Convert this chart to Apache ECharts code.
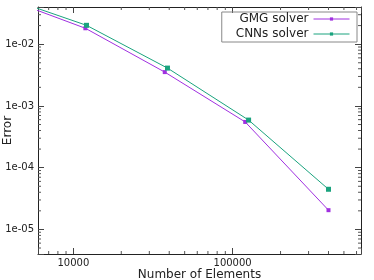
<!DOCTYPE html>
<html><head><meta charset="utf-8">
<script src="https://cdn.jsdelivr.net/npm/echarts@6/dist/echarts.min.js"></script>
<style>html,body{margin:0;padding:0;background:#fff}#c{width:374px;height:280px}</style>
</head><body><div id="c"></div>
<script>
const gmgN = [5800, 11900, 37500, 120000, 400000];
const gmgErr = [0.0361, 0.0181, 0.00353, 0.00055, 0.0000205];
const cnnN = [5800, 12100, 39000, 126000, 400000];
const cnnErr = [0.0389, 0.0202, 0.0041, 0.00059, 0.0000447];
const xMin = 6000, xMax = 640000, yMin = 4e-6, yMax = 4e-2;
const xMinorTicks = [7000, 8000, 9000, 20000, 30000, 40000, 50000, 60000, 70000, 80000, 90000,
  200000, 300000, 400000, 500000, 600000];
const yMinorTicks = [5e-6, 6e-6, 7e-6, 8e-6, 9e-6, 2e-5, 3e-5, 4e-5, 5e-5, 6e-5, 7e-5, 8e-5, 9e-5,
  2e-4, 3e-4, 4e-4, 5e-4, 6e-4, 7e-4, 8e-4, 9e-4, 2e-3, 3e-3, 4e-3, 5e-3, 6e-3, 7e-3, 8e-3, 9e-3,
  2e-2, 3e-2];

const minorData = [];
xMinorTicks.forEach(v => { minorData.push([v, yMin, 0]); minorData.push([v, yMax, 1]); });
yMinorTicks.forEach(v => { minorData.push([xMin, v, 2]); minorData.push([xMax, v, 3]); });

const chart = echarts.init(document.getElementById('c'), null, {renderer: 'canvas'});
const font = 'DejaVu Sans';
const isPow10 = v => Math.abs(Math.log10(v) - Math.round(Math.log10(v))) < 1e-6;
const axisCommon = {
  type: 'log', logBase: 10,
  axisLine: {show: true, lineStyle: {color: '#222', width: 1}},
  axisTick: {show: true, inside: true, length: 6, lineStyle: {color: '#444'}},
  splitLine: {show: false},
  minorTick: {show: false}
};
const purple = '#a030e0', green = '#1aa37e';
chart.setOption({
  animation: false,
  textStyle: {fontFamily: font},
  grid: {left: 38, right: 13, top: 7, bottom: 26, containLabel: false, outerBoundsMode: 'none'},
  legend: {
    data: ['GMG solver', 'CNNs solver'],
    orient: 'vertical', align: 'right',
    right: 17, top: 12,
    itemWidth: 36, itemHeight: 4, itemGap: 1,
    padding: [0, 7, 1, 14],
    borderColor: '#888', borderWidth: 1,
    lineStyle: {width: 1},
    textStyle: {fontFamily: font, fontSize: 12, color: '#222', lineHeight: 14}
  },
  xAxis: [
    Object.assign({}, axisCommon, {
      min: xMin, max: xMax, position: 'bottom',
      name: 'Number of Elements', nameLocation: 'middle', nameGap: 15, nameMoveOverlap: false,
      nameTextStyle: {fontFamily: font, fontSize: 12, color: '#222'},
      axisLabel: {fontFamily: font, fontSize: 10, color: '#222', margin: 4,
        formatter: v => isPow10(v) ? String(Math.round(v)) : ''}
    }),
    Object.assign({}, axisCommon, {
      min: xMin, max: xMax, position: 'top', axisLabel: {show: false}
    })
  ],
  yAxis: [
    Object.assign({}, axisCommon, {
      min: yMin, max: yMax, position: 'left',
      name: 'Error', nameLocation: 'middle', nameGap: 24, nameMoveOverlap: false,
      nameTextStyle: {fontFamily: font, fontSize: 12, color: '#222'},
      axisLabel: {fontFamily: font, fontSize: 10, color: '#222', margin: 4,
        formatter: v => {
          if (!isPow10(v)) return '';
          const e = Math.round(Math.log10(v));
          const a = Math.abs(e);
          return '1e' + (e < 0 ? '-' : '+') + (a < 10 ? '0' + a : a);
        }}
    }),
    Object.assign({}, axisCommon, {
      min: yMin, max: yMax, position: 'right', axisLabel: {show: false}
    })
  ],
  series: [
    {
      name: 'GMG solver', type: 'line',
      data: gmgN.map((x, i) => [x, gmgErr[i]]),
      symbol: 'rect', symbolSize: 4, showAllSymbol: true, clip: true,
      lineStyle: {color: purple, width: 1},
      itemStyle: {color: purple},
      z: 3
    },
    {
      name: 'CNNs solver', type: 'line',
      data: cnnN.map((x, i) => [x, cnnErr[i]]),
      symbol: 'rect', symbolSize: 5, showAllSymbol: true, clip: true,
      lineStyle: {color: green, width: 1},
      itemStyle: {color: green},
      z: 3
    },
    {
      name: 'minorTicks', type: 'custom', silent: true, clip: false,
      data: minorData,
      encode: {x: 0, y: 1},
      renderItem: function (params, api) {
        const p = api.coord([api.value(0), api.value(1)]);
        const k = api.value(2);
        const L = 3;
        let shape;
        if (k === 0) shape = {x1: p[0], y1: p[1], x2: p[0], y2: p[1] - L};
        else if (k === 1) shape = {x1: p[0], y1: p[1], x2: p[0], y2: p[1] + L};
        else if (k === 2) shape = {x1: p[0], y1: p[1], x2: p[0] + L, y2: p[1]};
        else shape = {x1: p[0], y1: p[1], x2: p[0] - L, y2: p[1]};
        return {type: 'line', shape: shape, style: {stroke: '#555', lineWidth: 1}};
      },
      z: 2
    }
  ]
});
</script></body></html>
